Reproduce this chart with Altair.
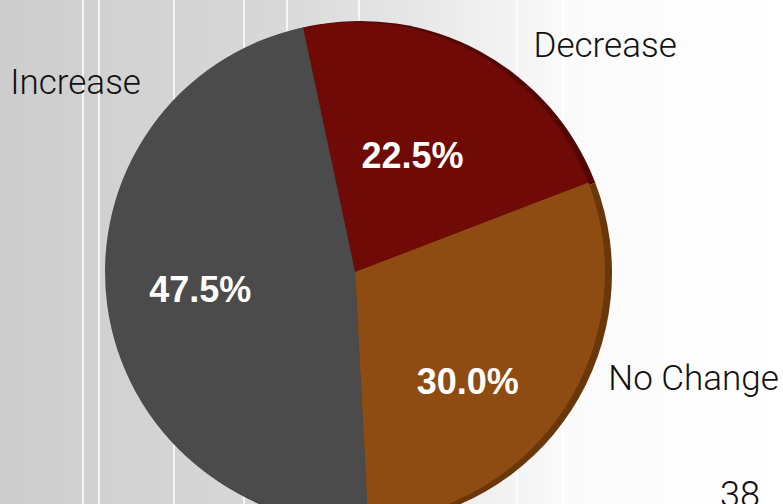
import math
import altair as alt
import pandas as pd

# ---- data ----
categories = ["Decrease", "No Change", "Increase"]
shares = [22.5, 30.0, 47.5]
pct_labels = ["22.5%", "30.0%", "47.5%"]
slice_order = [0, 1, 2]
page_number = ["38"]
stripe_x = [83, 99, 174, 244, 287, 359, 517, 563]

W, H = 783, 504
CX, CY, R = 355, 272, 250
START = math.radians(-12)

colors = ["#6f0a07", "#8e4c13", "#4b4b4b"]
rim_colors = ["#520705", "#6a370b", "#3a3a3a"]

df = pd.DataFrame({"category": categories, "value": shares,
                   "label": pct_labels, "order": slice_order})
stripes = pd.DataFrame({"pos": stripe_x})
one = pd.DataFrame({"k": [0]})

theta = alt.Theta("value:Q", stack=True,
                  scale=alt.Scale(range=[START, START + 2 * math.pi]))
order = alt.Order("order:Q")

bg = alt.Chart(one).mark_rect(
    color=alt.Gradient(
        gradient="linear", x1=0, x2=1, y1=0, y2=0,
        stops=[alt.GradientStop(color="#cdcdcd", offset=0),
               alt.GradientStop(color="#d8d8d8", offset=0.35),
               alt.GradientStop(color="#e9e9e9", offset=0.55),
               alt.GradientStop(color="#fafafa", offset=0.72),
               alt.GradientStop(color="#ffffff", offset=1)])
).encode(x=alt.value(0), x2=alt.value(W), y=alt.value(0), y2=alt.value(H))

lines = alt.Chart(stripes).mark_rule(color="white", strokeWidth=2, opacity=0.75).encode(
    x=alt.X("pos:Q", scale=alt.Scale(domain=[0, W], range=[0, W]), axis=None),
    y=alt.value(0), y2=alt.value(H))

rim = alt.Chart(df).mark_arc(radius=R + 2).encode(
    theta=theta, order=order,
    color=alt.Color("category:N", scale=alt.Scale(domain=categories, range=rim_colors), legend=None),
    x=alt.value(CX + 5), y=alt.value(CY + 1))

pie = alt.Chart(df).mark_arc(radius=R).encode(
    theta=theta, order=order,
    fill=alt.Fill("category:N", scale=alt.Scale(domain=categories, range=colors), legend=None),
    x=alt.value(CX), y=alt.value(CY))


def one_label(cat, text_field, radius, dx, dy, **style):
    return alt.Chart(df).mark_text(radius=radius, dx=dx, dy=dy, **style).encode(
        theta=theta, order=order, text=text_field,
        opacity=alt.condition(alt.datum.category == cat, alt.value(1), alt.value(0)),
        x=alt.value(CX), y=alt.value(CY))


pct_offsets = {"Decrease": (-14, 17), "No Change": (-13, 29), "Increase": (-6, -1)}
outer_offsets = {"Decrease": (107, 38), "No Change": (87, -56), "Increase": (18, -228)}

layers = [bg, lines, rim, pie]
for cat in categories:
    dx, dy = pct_offsets[cat]
    layers.append(one_label(cat, "label:N", 150, dx, dy, font="Liberation Sans",
                            fontWeight="bold", fontSize=36, color="white"))
for cat in categories:
    dx, dy = outer_offsets[cat]
    layers.append(one_label(cat, "category:N", 300, dx, dy, font="Roboto",
                            fontWeight=300, fontSize=35, color="#111111"))

page = alt.Chart(pd.DataFrame({"p": page_number})).mark_text(
    font="Roboto", fontWeight=300, fontSize=36, color="#111111", baseline="top", align="center"
).encode(text="p:N", x=alt.value(740), y=alt.value(479))
layers.append(page)

chart = alt.layer(*layers).properties(
    width=W, height=H, autosize=alt.AutoSizeParams(type="none"), padding=0
).configure_view(stroke=None)

chart.save("out.html", embed_options={"renderer": "svg", "actions": False})
